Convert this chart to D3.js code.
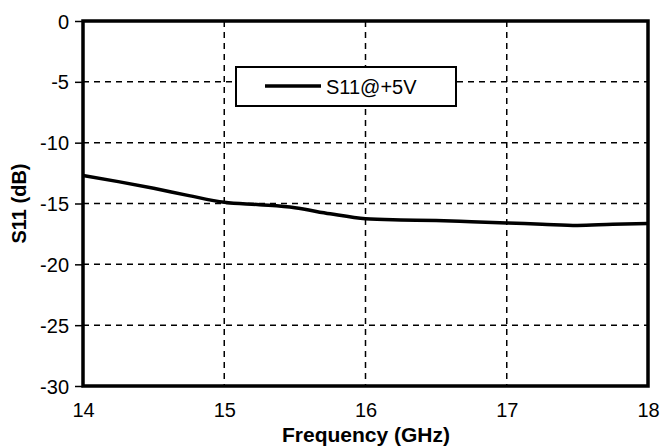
<!DOCTYPE html>
<html><head><meta charset="utf-8">
<script src="https://cdn.jsdelivr.net/npm/d3@7"></script>
<style>body{margin:0;background:#fff;} svg{display:block;font-family:"Liberation Sans",Arial,sans-serif;}</style>
</head><body>
<svg id="c" width="660" height="448"></svg>
<script>
const freq = [14, 14.25, 14.5, 14.75, 15, 15.25, 15.5, 15.75, 16, 16.25, 16.5, 16.75, 17, 17.25, 17.5, 17.75, 18];
const s11 = [-12.7, -13.2, -13.75, -14.35, -14.9, -15.1, -15.35, -15.85, -16.25, -16.35, -16.4, -16.5, -16.6, -16.7, -16.8, -16.7, -16.65];
const xTicks = [14, 15, 16, 17, 18];
const yTicks = [0, -5, -10, -15, -20, -25, -30];
const seriesName = "S11@+5V";

const svg = d3.select("#c");
const L = 83, R = 648, T = 21, B = 386;
const x = d3.scaleLinear().domain([14, 18]).range([L, R]);
const y = d3.scaleLinear().domain([-30, 0]).range([B, T]);

// grid
const g = svg.append("g");
g.selectAll("line.vg").data(xTicks.slice(1, -1)).join("line")
  .attr("x1", d => x(d)).attr("x2", d => x(d)).attr("y1", T).attr("y2", B)
  .attr("stroke", "#000").attr("stroke-width", 1.5).attr("stroke-dasharray", "6,5");
g.selectAll("line.hg").data(yTicks.slice(1, -1)).join("line")
  .attr("x1", L).attr("x2", R).attr("y1", d => y(d)).attr("y2", d => y(d))
  .attr("stroke", "#000").attr("stroke-width", 1.5).attr("stroke-dasharray", "6,5");

// axes
const yAxis = svg.append("g").attr("transform", `translate(${L},0)`)
  .call(d3.axisLeft(y).tickValues(yTicks).tickSize(8).tickPadding(6).tickFormat(d => String(d)));
yAxis.select(".domain").remove();
yAxis.selectAll("line").attr("stroke-width", 1.5);
yAxis.selectAll("text").attr("font-size", 20).attr("fill", "#000").attr("dy", "0.35em");

const xAxis = svg.append("g").attr("transform", `translate(0,${B})`)
  .call(d3.axisBottom(x).tickValues(xTicks).tickSize(0).tickPadding(17).tickFormat(d => String(d)));
xAxis.select(".domain").remove();
xAxis.selectAll("text").attr("font-size", 20).attr("fill", "#000");

// frame
svg.append("rect").attr("x", L).attr("y", T).attr("width", R - L).attr("height", B - T)
  .attr("fill", "none").attr("stroke", "#000").attr("stroke-width", 3.5);

// curve
const line = d3.line().x((d, i) => x(freq[i])).y(d => y(d)).curve(d3.curveMonotoneX);
svg.append("path").datum(s11).attr("d", line)
  .attr("fill", "none").attr("stroke", "#000").attr("stroke-width", 3.5);

// legend
const lg = svg.append("g");
lg.append("rect").attr("x", 236).attr("y", 67).attr("width", 220).attr("height", 39)
  .attr("fill", "#fff").attr("stroke", "#000").attr("stroke-width", 2);
lg.append("line").attr("x1", 265).attr("x2", 321).attr("y1", 86).attr("y2", 86)
  .attr("stroke", "#000").attr("stroke-width", 3.5);
lg.append("text").attr("x", 326).attr("y", 94).attr("font-size", 20).text(seriesName);

// titles
svg.append("text").attr("x", 366).attr("y", 442).attr("text-anchor", "middle")
  .attr("font-size", 21).attr("font-weight", "bold").text("Frequency (GHz)");
svg.append("text").attr("transform", `translate(26,${(T + B) / 2}) rotate(-90)`)
  .attr("text-anchor", "middle").attr("font-size", 20).attr("font-weight", "bold").text("S11 (dB)");
</script>
</body></html>
